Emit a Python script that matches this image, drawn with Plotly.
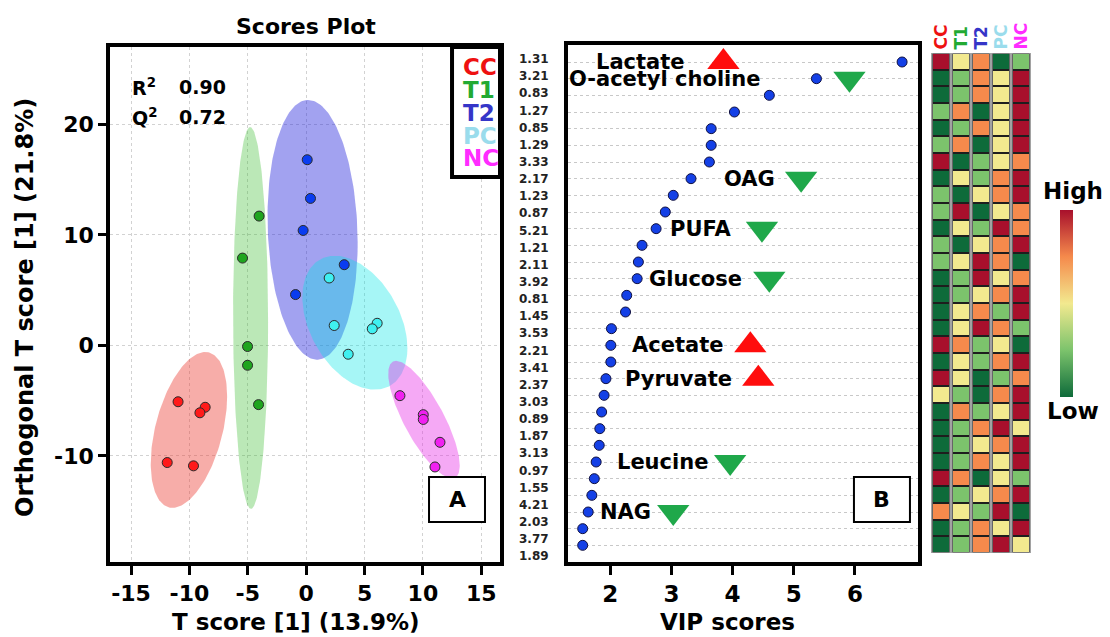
import numpy as np
import plotly.graph_objects as go

FONT = "DejaVu Sans"
W, H = 1110, 637

# ---------------- Scores plot (OPLS-DA) ----------------
groups = ["CC", "T1", "T2", "PC", "NC"]
point_colors = ["#ff1a1a", "#1fa51f", "#0a3cf0", "#3ff0f0", "#f020f0"]
label_colors = ["#ee1111", "#22aa33", "#3535c8", "#9adcec", "#ff2cff"]
ellipse_fill = ["rgba(235,60,50,0.42)", "rgba(60,190,50,0.35)",
                "rgba(40,40,220,0.43)", "rgba(0,230,230,0.35)",
                "rgba(230,40,230,0.40)"]

cc_t = [-10.97, -8.65, -9.10, -11.90, -9.65]
cc_o = [-5.10, -5.60, -6.10, -10.60, -10.90]
t1_t = [-4.03, -5.45, -5.02, -5.02, -4.08]
t1_o = [11.70, 7.90, -0.10, -1.80, -5.36]
t2_t = [0.09, 0.37, -0.26, 3.26, -0.91]
t2_o = [16.80, 13.30, 10.40, 7.30, 4.60]
pc_t = [1.97, 2.40, 6.08, 5.66, 3.60]
pc_o = [6.10, 1.80, 2.00, 1.50, -0.80]
nc_t = [8.03, 10.03, 10.03, 11.46, 11.03]
nc_o = [-4.55, -6.27, -6.70, -8.77, -11.00]

# confidence ellipses: centre, half-extent along each axis, correlation
ell_cx = [-10.04, -4.76, 0.55, 4.17, 10.09]
ell_cy = [-7.65, 2.48, 10.46, 2.05, -6.72]
ell_sx = [3.27, 1.50, 3.86, 4.50, 3.06]
ell_sy = [7.05, 17.27, 11.75, 6.06, 5.32]
ell_rho = [0.43, -0.02, -0.10, -0.38, -0.78]

t_ticks = [-15, -10, -5, 0, 5, 10, 15]
o_ticks = [-10, 0, 10, 20]

# ---------------- VIP scores ----------------
vip_ticktext = ["1.31", "3.21", "0.83", "1.27", "0.85", "1.29", "3.33", "2.17",
                "1.23", "0.87", "5.21", "1.21", "2.11", "3.92", "0.81", "1.45",
                "3.53", "2.21", "3.41", "2.37", "3.03", "0.89", "1.87", "3.13",
                "0.97", "1.55", "4.21", "2.03", "3.77", "1.89"]
vip_score = [6.77, 5.37, 4.60, 4.03, 3.65, 3.65, 3.62, 3.32, 3.03, 2.90,
             2.75, 2.52, 2.46, 2.44, 2.27, 2.25, 2.02, 2.01, 2.01, 1.93,
             1.90, 1.86, 1.83, 1.82, 1.77, 1.74, 1.70, 1.64, 1.55, 1.55]
vip_rows = list(range(1, len(vip_score) + 1))
vip_ticks = [2, 3, 4, 5, 6]

met_names = ["Lactate", "O-acetyl choline", "OAG", "PUFA", "Glucose",
             "Acetate", "Pyruvate", "Leucine", "NAG"]
met_rows = [1, 2, 8, 11, 14, 18, 20, 25, 28]
met_trend = ["up", "down", "down", "down", "down", "up", "up", "down", "down"]
met_arrow_x = [3.85, 5.91, 5.12, 4.48, 4.60, 4.29, 4.42, 3.96, 3.03]
met_label_x = [3.26, 4.48, 4.73, 4.01, 4.19, 3.88, 4.03, 3.63, 2.70]

# ---------------- Heatmap (relative level, 0 = low ... 4 = high) ----------------
cc_level = [4, 0, 0, 1, 0, 1, 4, 0, 1, 1, 0, 1, 1, 0, 0, 0, 0, 4, 0, 4, 2, 0, 0, 0, 0, 4, 0, 3, 0, 0]
t1_level = [2, 1, 1, 3, 1, 3, 0, 2, 0, 4, 2, 0, 2, 1, 1, 2, 2, 3, 2, 2, 1, 3, 1, 1, 1, 3, 1, 2, 1, 1]
t2_level = [3, 3, 3, 0, 3, 0, 1, 1, 2, 0, 1, 2, 4, 4, 2, 3, 4, 1, 1, 0, 0, 1, 3, 2, 3, 0, 2, 1, 3, 3]
pc_level = [0, 2, 2, 2, 2, 2, 2, 3, 3, 2, 4, 3, 3, 2, 3, 1, 3, 2, 3, 1, 3, 2, 4, 3, 2, 2, 3, 4, 2, 4]
nc_level = [1, 4, 4, 4, 4, 4, 3, 4, 4, 3, 3, 4, 0, 3, 4, 4, 1, 0, 4, 3, 4, 4, 2, 4, 4, 1, 4, 0, 4, 2]
heat_colorscale = [[0.0, "#0e6b3a"], [0.25, "#7cc36c"], [0.5, "#f2e98f"],
                   [0.75, "#f58a4c"], [1.0, "#a8102c"]]


def f(size, color="black"):
    return dict(family=FONT, weight="bold", color=color, size=size)


def b(s):
    return "<b>" + s + "</b>"


fig = go.Figure()

# ellipses
t = np.linspace(0, 2 * np.pi, 200)
for i in range(5):
    ex = ell_cx[i] + ell_sx[i] * np.cos(t)
    ey = ell_cy[i] + ell_sy[i] * (ell_rho[i] * np.cos(t) + np.sqrt(1 - ell_rho[i] ** 2) * np.sin(t))
    fig.add_trace(go.Scatter(x=ex, y=ey, mode="lines", fill="toself",
                             fillcolor=ellipse_fill[i], line=dict(width=0),
                             hoverinfo="skip", showlegend=False, xaxis="x", yaxis="y"))

# score points
for gx, gy, col in zip([cc_t, t1_t, t2_t, pc_t, nc_t], [cc_o, t1_o, t2_o, pc_o, nc_o], point_colors):
    fig.add_trace(go.Scatter(x=gx, y=gy, mode="markers",
                             marker=dict(size=10, color=col, line=dict(width=1, color="#2a2a2a")),
                             showlegend=False, xaxis="x", yaxis="y"))

# VIP dots
fig.add_trace(go.Scatter(x=vip_score, y=vip_rows, mode="markers",
                         marker=dict(size=10, color="#1440e6", line=dict(width=1, color="#101040")),
                         showlegend=False, xaxis="x2", yaxis="y2"))

# trend triangles
for trend, sym, col in [("up", "triangle-up", "#ff0d0d"), ("down", "triangle-down", "#1fa84a")]:
    xs = [x for x, tr in zip(met_arrow_x, met_trend) if tr == trend]
    ys = [r for r, tr in zip(met_rows, met_trend) if tr == trend]
    fig.add_trace(go.Scatter(x=xs, y=ys, mode="markers",
                             marker=dict(symbol=sym, size=28, color=col, line=dict(width=0)),
                             showlegend=False, xaxis="x2", yaxis="y2"))

# carrier for the numeric row labels axis
fig.add_trace(go.Scatter(x=[vip_score[0]], y=[1], mode="markers", marker=dict(opacity=0),
                         hoverinfo="skip", showlegend=False, xaxis="x2", yaxis="y4"))

# heatmap
z = [list(r) for r in zip(cc_level, t1_level, t2_level, pc_level, nc_level)]
fig.add_trace(go.Heatmap(z=z, x=list(range(5)), y=list(range(len(z))),
                         zmin=0, zmax=4, colorscale=heat_colorscale, xgap=4, ygap=2,
                         hoverinfo="skip", xaxis="x3", yaxis="y3",
                         colorbar=dict(x=1060 / W, xanchor="left", xpad=0, ypad=0,
                                       y=1 - 303.5 / H, yanchor="middle",
                                       thickness=13, thicknessmode="pixels",
                                       len=187, lenmode="pixels",
                                       outlinewidth=0, showticklabels=False, ticks="")))

axis_common = dict(showline=True, linewidth=3.5, linecolor="black", mirror=True,
                   zeroline=False, ticks="outside", tickwidth=3, tickcolor="black")

fig.update_layout(
    width=W, height=H, margin=dict(l=0, r=0, t=0, b=0),
    paper_bgcolor="white", plot_bgcolor="white",
    font=dict(family=FONT, weight="bold", color="black"),
    xaxis=dict(domain=[110 / W, 500 / W], range=[-16.8, 16.6], anchor="y",
               tickvals=t_ticks, ticktext=[b(str(v)) for v in t_ticks],
               ticklen=9, tickfont=f(22), showgrid=True, gridcolor="#d2d2d2",
               griddash="dot", gridwidth=1, automargin=False, **axis_common),
    yaxis=dict(domain=[1 - 562 / H, 1 - 47 / H], range=[-19.6, 27.0], anchor="x",
               tickvals=o_ticks, ticktext=[b(str(v)) for v in o_ticks],
               ticklen=8, tickfont=f(22), showgrid=True, gridcolor="#d2d2d2",
               griddash="dot", gridwidth=1, automargin=False, **axis_common),
    xaxis2=dict(domain=[568 / W, 918 / W], range=[1.31, 7.03], anchor="y2",
                tickvals=vip_ticks, ticktext=[b(str(v)) for v in vip_ticks],
                ticklen=9, tickfont=f(23), showgrid=False, automargin=False, **axis_common),
    yaxis2=dict(domain=[1 - 562 / H, 1 - 45 / H], range=[31.0, -0.02], anchor="x2",
                tickvals=vip_rows, showticklabels=False, showgrid=True,
                gridcolor="#c8c8c8", griddash="dot", gridwidth=1,
                showline=True, linewidth=3.5, linecolor="black", mirror=True,
                zeroline=False, ticks="", automargin=False),
    yaxis4=dict(overlaying="y2", anchor="x2", side="left", range=[30.35, 0.183],
                tickvals=vip_rows, ticktext=[b(s) for s in vip_ticktext],
                tickfont=f(12, "#222222"),
                ticks="outside", ticklen=16, tickcolor="rgba(0,0,0,0)",
                showgrid=False, showline=False, zeroline=False, automargin=False),
    xaxis3=dict(domain=[931 / W, 1031 / W], range=[-0.5, 4.5], anchor="y3",
                visible=False),
    yaxis3=dict(domain=[1 - 553 / H, 1 - 53 / H], range=[29.5, -0.5], anchor="x3",
                visible=False),
)

# heatmap column frames
for j in range(5):
    fig.add_shape(type="rect", xref="x3", yref="y3", x0=j - 0.46, x1=j + 0.46,
                  y0=-0.5, y1=len(z) - 0.5, fillcolor="#1e1e1e",
                  line=dict(color="#a0a0a0", width=1.5), layer="below")

# legend box and panel tags
fig.add_shape(type="rect", xref="x domain", yref="y domain", x0=0.877, x1=1.0,
              y0=0.7476, y1=1.0, fillcolor="white", line=dict(color="black", width=4),
              layer="above")
fig.add_shape(type="rect", xref="x domain", yref="y domain", x0=0.818, x1=0.9615,
              y0=0.0777, y1=0.165, fillcolor="white", line=dict(color="black", width=2),
              layer="above")
fig.add_shape(type="rect", xref="x2 domain", yref="y2 domain", x0=0.817, x1=0.977,
              y0=0.0774, y1=0.1644, fillcolor="white", line=dict(color="black", width=2),
              layer="above")


def note(text, x, y, size, color="black", xref="paper", yref="paper",
         xanchor="center", yanchor="middle", angle=0):
    return dict(text=text, x=x, y=y, xref=xref, yref=yref, xanchor=xanchor,
                yanchor=yanchor, textangle=angle, showarrow=False, font=f(size, color))


ann = []
legend_y = [67, 90, 113, 136, 158]
for g, c, py in zip(groups, label_colors, legend_y):
    ann.append(note(g, 461 / W, 1 - py / H, 23, c, xanchor="left"))
ann.append(note("A", 0.89, 0.121, 22, xref="x domain", yref="y domain"))
ann.append(note("B", 0.897, 0.121, 22, xref="x2 domain", yref="y2 domain"))
ann.append(note("R<sup>2</sup>", 130 / W, 1 - 87 / H, 19, xanchor="left"))
ann.append(note("0.90", 177 / W, 1 - 87 / H, 19, xanchor="left"))
ann.append(note("Q<sup>2</sup>", 130 / W, 1 - 117 / H, 19, xanchor="left"))
ann.append(note("0.72", 177 / W, 1 - 117 / H, 19, xanchor="left"))

# titles
ann.append(note("Scores Plot", 306 / W, 1 - 26 / H, 22))
ann.append(note("T score [1] (13.9%)", 296 / W, 1 - 622 / H, 23))
ann.append(note("Orthogonal T score [1] (21.8%)", 25 / W, 1 - 308 / H, 24, angle=-90))
ann.append(note("VIP scores", 727 / W, 1 - 622 / H, 23))

# metabolite names
for name, r, lx in zip(met_names, met_rows, met_label_x):
    ann.append(note(name, lx, r, 21, xref="x2", yref="y2", xanchor="right"))

# heatmap headers and colour key
for j, (g, c) in enumerate(zip(groups, label_colors)):
    ann.append(note(g, j, 1 - 52 / H, 17, c, xref="x3", yanchor="bottom", angle=-90))
ann.append(note("High", 1073 / W, 1 - 191 / H, 23))
ann.append(note("Low", 1073 / W, 1 - 411 / H, 23))

fig.update_layout(annotations=ann)
fig.write_html("out.html")
